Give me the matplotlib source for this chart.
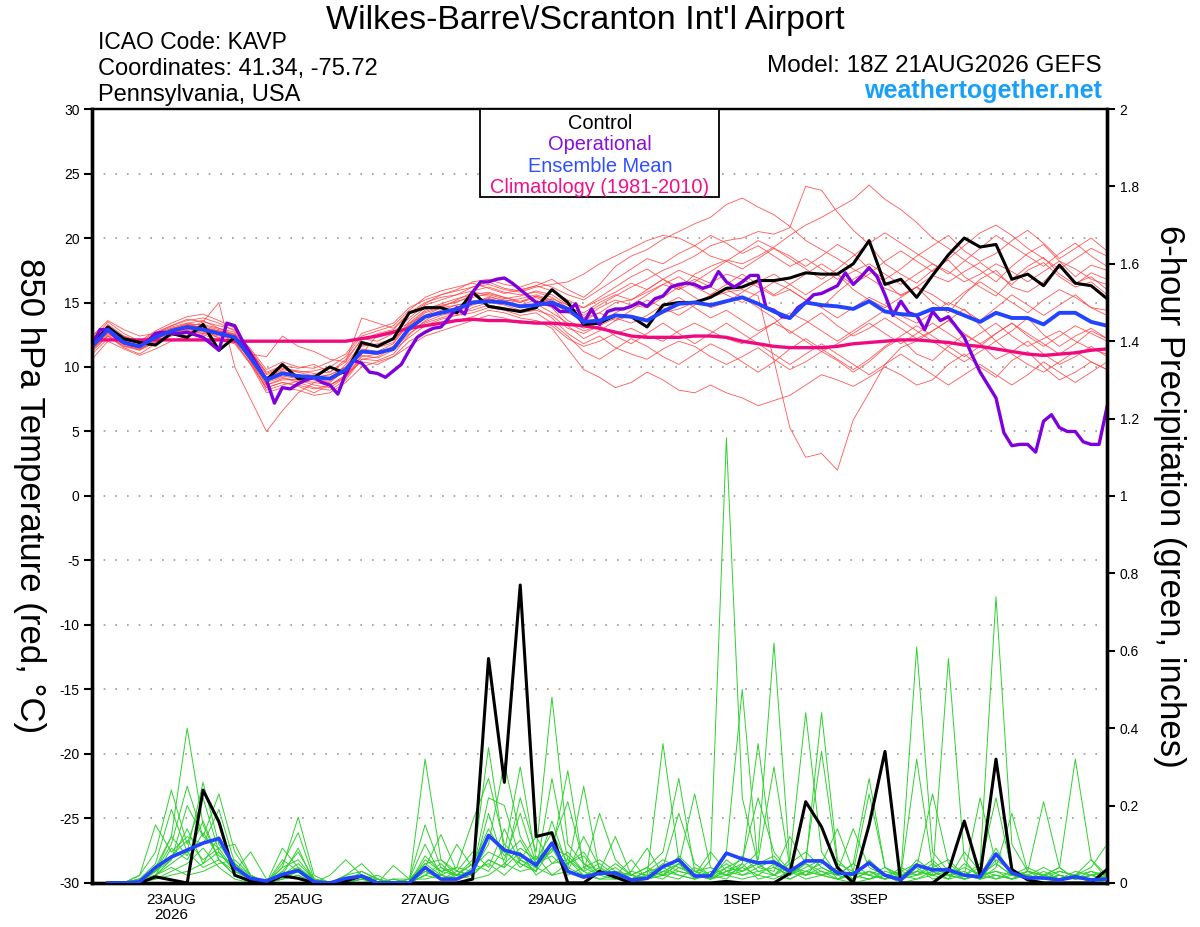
import matplotlib
matplotlib.use("Agg")
import matplotlib.pyplot as plt
import matplotlib.patches as patches
import numpy as np

plt.rcParams['font.family'] = ['Liberation Sans', 'DejaVu Sans']
plt.rcParams['axes.unicode_minus'] = False

# czasy: co 6 h (GEFS) i co 3 h (operacyjny GFS)
t6 = np.arange(np.datetime64('2026-08-21T18:00'), np.datetime64('2026-09-06T19:00'), np.timedelta64(6, 'h'))
t3 = np.arange(np.datetime64('2026-08-21T18:00'), np.datetime64('2026-09-06T19:00'), np.timedelta64(3, 'h'))
t_opad = t6[1:]

# temperatura 850 hPa (C)
kontrolny = [11.7, 13.1, 12.2, 11.9, 11.7, 12.6, 12.3, 13.3, 11.3, 12.3, 10.8, 9.0, 10.2, 9.1, 9.2, 10.0, 9.5,
             11.9, 11.6, 12.2, 14.2, 14.6, 14.6, 14.2, 15.8, 14.7, 14.5, 14.3, 14.6, 16.0, 15.0, 13.3, 13.4,
             14.0, 13.9, 13.1, 14.8, 15.0, 15.0, 15.4, 16.1, 16.2, 16.7, 16.7, 16.9, 17.3, 17.2, 17.2, 18.0,
             19.8, 16.4, 16.8, 15.4, 17.1, 18.7, 20.0, 19.3, 19.5, 16.8, 17.2, 16.3, 17.9, 16.5, 16.3, 15.3]

srednia = [11.6, 12.9, 11.9, 11.6, 12.3, 12.8, 13.1, 12.9, 12.6, 12.3, 10.7, 9.0, 9.5, 9.3, 9.2, 9.1, 9.8,
           11.2, 11.1, 11.4, 13.0, 13.9, 14.2, 14.5, 15.0, 15.1, 15.0, 14.7, 14.8, 15.0, 14.5, 13.5, 13.6,
           14.0, 13.9, 13.6, 14.3, 14.9, 15.0, 14.8, 15.1, 15.4, 14.9, 14.3, 13.8, 15.0, 14.8, 14.7, 14.5,
           15.1, 14.3, 14.1, 14.0, 14.5, 14.5, 14.0, 13.5, 14.2, 13.8, 13.8, 13.3, 14.2, 14.2, 13.5, 13.2]

klimatologia = [12.1, 12.1, 12.1, 12.1, 12.1, 12.1, 12.1, 12.1, 12.1, 12.0, 12.0, 12.0, 12.0, 12.0, 12.0, 12.0, 12.0,
                12.2, 12.4, 12.7, 13.0, 13.2, 13.4, 13.6, 13.7, 13.6, 13.6, 13.5, 13.4, 13.4, 13.3, 13.2, 13.0,
                12.7, 12.4, 12.3, 12.3, 12.3, 12.4, 12.4, 12.3, 12.0, 11.8, 11.6, 11.5, 11.5, 11.5, 11.6, 11.8,
                11.9, 12.0, 12.1, 12.1, 12.0, 11.9, 11.7, 11.6, 11.4, 11.2, 11.0, 10.9, 11.0, 11.1, 11.3, 11.4]

operacyjny = [11.7, 12.9, 12.9, 12.3, 11.9, 11.7, 11.6, 12.0, 12.6, 12.7, 12.6, 12.6, 12.7, 12.5, 12.3, 11.8,
              11.3, 13.4, 13.2, 12.0, 11.0, 10.0, 9.0, 7.2, 8.4, 8.3, 8.7, 9.0, 9.2, 8.8, 8.6, 7.9,
              9.5, 10.5, 10.3, 9.6, 9.5, 9.2, 9.7, 10.2, 11.3, 12.3, 12.7, 13.0, 13.1, 13.8, 14.6, 14.1,
              15.8, 16.6, 16.6, 16.8, 16.9, 16.5, 16.0, 15.5, 15.0, 14.9, 14.8, 14.3, 14.3, 14.9, 13.4, 14.5,
              13.3, 14.3, 14.5, 14.5, 14.7, 15.0, 14.7, 15.3, 15.5, 16.2, 16.4, 16.5, 16.4, 16.1, 16.3, 17.4,
              16.6, 16.2, 16.6, 17.1, 17.1, 14.6, 14.4, 13.9, 13.8, 14.6, 15.0, 15.6, 15.7, 16.0, 16.3, 17.3,
              16.4, 17.0, 17.7, 17.0, 15.6, 14.0, 15.1, 14.2, 14.0, 12.9, 14.3, 13.6, 13.9, 13.1, 12.3, 10.9,
              9.6, 8.6, 7.6, 4.9, 3.9, 4.0, 4.0, 3.4, 5.8, 6.3, 5.3, 5.0, 5.0, 4.2, 4.0, 4.0, 6.9]

czlonkowie_temp = [
    [12.0, 13.5, 12.6, 12.0, 12.8, 13.4, 13.9, 14.1, 13.6, 13.0, 11.2, 9.6, 10.1, 9.9, 10.2, 9.6, 10.6,
     12.1, 12.6, 12.9, 14.1, 14.9, 15.6, 15.9, 16.2, 16.6, 16.1, 15.9, 16.3, 16.8, 16.0, 15.4, 16.4,
     17.8, 18.6, 19.1, 19.9, 20.5, 21.1, 21.6, 22.6, 23.1, 22.4, 21.8, 20.9, 19.8, 19.1, 18.4, 17.6,
     16.9, 16.1, 15.6, 16.2, 17.1, 16.6, 17.4, 18.1, 17.2, 16.4, 17.5, 18.1, 17.0, 16.2, 16.6, 15.6],
    [11.2, 12.4, 11.5, 11.0, 11.8, 12.6, 13.3, 13.0, 12.2, 12.0, 10.2, 8.4, 8.8, 8.5, 8.0, 8.6, 9.2,
     10.6, 10.8, 11.5, 12.8, 13.5, 14.0, 14.3, 14.8, 15.2, 15.0, 14.6, 14.9, 15.3, 14.8, 14.0, 14.8,
     15.5, 16.2, 16.8, 17.5, 18.0, 18.6, 19.4, 19.8, 20.0, 20.5, 20.3, 20.8, 24.0, 23.7, 22.0, 20.6,
     19.5, 18.0, 17.2, 16.5, 17.5, 18.3, 17.0, 16.2, 15.5, 16.8, 17.8, 18.5, 17.2, 16.4, 17.3, 16.8],
    [11.8, 12.8, 12.3, 11.9, 12.1, 12.9, 13.4, 13.6, 13.0, 12.7, 11.0, 9.2, 9.8, 9.6, 9.3, 9.0, 10.2,
     11.8, 11.5, 11.9, 13.6, 14.6, 14.8, 15.0, 15.6, 15.8, 15.4, 15.0, 15.5, 15.0, 14.2, 13.6, 14.2,
     15.0, 15.2, 15.8, 16.4, 16.0, 17.2, 17.8, 18.3, 18.0, 18.6, 19.3, 20.2, 21.0, 21.6, 22.3, 23.0,
     24.1, 23.0, 22.2, 21.2, 20.0, 19.2, 18.3, 17.5, 16.6, 17.8, 18.8, 19.5, 18.2, 17.0, 17.9, 17.5],
    [12.3, 13.0, 12.0, 11.5, 12.5, 13.0, 13.2, 13.0, 12.8, 12.5, 10.6, 8.8, 9.2, 8.8, 8.4, 8.2, 9.0,
     10.6, 10.5, 11.0, 12.5, 13.6, 14.3, 14.6, 14.9, 15.3, 15.0, 14.8, 15.2, 14.6, 13.2, 12.2, 12.8,
     13.6, 14.0, 13.6, 14.2, 14.5, 15.0, 15.4, 15.8, 16.0, 15.5, 10.5, 5.3, 3.0, 3.3, 2.0, 5.9,
     8.0, 10.2, 11.5, 12.0, 12.8, 13.6, 14.5, 13.2, 12.0, 12.8, 13.8, 12.5, 11.6, 12.4, 13.0, 12.2],
    [11.0, 12.2, 11.8, 11.4, 11.9, 12.6, 13.0, 13.5, 15.0, 10.0, 7.5, 5.0, 6.6, 8.0, 8.8, 9.2, 9.8,
     11.0, 12.5, 12.8, 13.4, 14.0, 14.6, 15.2, 15.8, 15.6, 15.3, 15.5, 15.9, 15.6, 14.8, 14.6, 15.2,
     15.8, 16.5, 16.0, 16.8, 17.5, 17.0, 16.5, 17.2, 16.8, 16.2, 15.5, 16.0, 15.2, 14.6, 15.8, 16.8,
     17.5, 16.6, 15.5, 16.2, 15.0, 14.2, 15.6, 16.8, 17.5, 16.2, 15.8, 16.6, 17.8, 16.5, 17.0, 16.0],
    [12.5, 12.9, 12.4, 12.0, 12.4, 12.6, 12.8, 12.6, 12.6, 12.2, 10.8, 9.0, 9.5, 9.2, 9.4, 9.0, 9.6,
     11.2, 11.0, 11.6, 12.8, 13.8, 14.2, 14.0, 14.6, 15.0, 14.8, 14.4, 14.6, 13.8, 12.6, 11.8, 12.4,
     11.5, 11.0, 10.6, 11.4, 12.0, 11.6, 10.8, 10.2, 10.8, 11.5, 10.6, 9.8, 10.4, 11.2, 10.5, 9.6,
     10.4, 11.5, 12.2, 11.0, 10.5, 11.6, 12.5, 11.8, 10.6, 11.2, 12.0, 11.0, 10.2, 10.8, 11.6, 10.8],
    [11.4, 12.6, 11.8, 11.6, 12.0, 12.4, 12.9, 12.7, 12.4, 12.3, 10.4, 8.6, 9.0, 9.0, 8.8, 8.6, 9.4,
     10.4, 10.2, 10.8, 12.0, 12.6, 13.2, 13.6, 13.9, 14.4, 14.2, 13.8, 13.6, 13.0, 11.4, 9.8, 9.2,
     8.4, 8.8, 9.6, 9.0, 8.2, 8.0, 8.6, 8.0, 7.6, 7.0, 7.4, 7.8, 8.6, 9.4, 9.0, 8.5,
     9.2, 10.0, 9.4, 8.6, 9.0, 10.2, 11.0, 10.0, 9.2, 10.5, 11.2, 10.0, 9.0, 9.6, 10.4, 9.8],
    [12.4, 13.6, 12.9, 12.4, 12.6, 13.2, 13.6, 13.8, 13.4, 12.8, 11.4, 9.8, 10.4, 10.0, 9.9, 10.4, 11.0,
     12.6, 13.0, 13.4, 14.6, 15.2, 15.6, 16.0, 16.6, 16.8, 16.4, 16.2, 16.6, 16.2, 15.6, 15.2, 16.0,
     16.8, 17.6, 18.4, 18.0, 18.8, 19.4, 18.6, 18.2, 17.6, 18.4, 19.2, 18.6, 17.8, 18.6, 19.5, 18.8,
     17.6, 16.8, 17.6, 18.6, 19.4, 20.2, 19.0, 18.2, 18.8, 19.8, 20.6, 19.6, 18.4, 19.2, 20.0, 19.0],
    [11.6, 12.8, 11.7, 11.3, 12.2, 12.7, 13.0, 12.8, 12.6, 12.1, 10.5, 8.2, 8.6, 8.9, 9.2, 9.4, 10.0,
     11.6, 11.8, 12.2, 13.2, 14.2, 14.6, 14.8, 15.0, 15.4, 15.2, 15.0, 15.4, 14.8, 13.6, 13.0, 13.4,
     14.2, 14.8, 14.6, 15.4, 16.2, 16.8, 16.2, 15.6, 15.0, 15.8, 16.6, 16.0, 15.2, 14.6, 13.8, 14.6,
     15.4, 14.8, 14.0, 13.4, 14.2, 15.0, 14.4, 13.6, 14.6, 15.6, 14.8, 14.0, 14.8, 15.6, 14.6, 14.0],
    [12.0, 13.2, 12.2, 11.8, 12.6, 13.1, 13.4, 13.2, 12.9, 12.4, 10.9, 9.2, 9.6, 9.4, 9.0, 8.8, 9.8,
     11.4, 11.2, 11.8, 13.4, 14.4, 14.9, 15.3, 15.6, 15.5, 15.1, 15.3, 15.6, 15.2, 14.4, 13.8, 14.2,
     13.6, 14.4, 15.2, 14.6, 14.0, 14.8, 15.6, 16.0, 15.4, 14.6, 13.8, 12.6, 13.4, 14.2, 13.2, 12.4,
     13.0, 13.8, 13.0, 12.2, 12.8, 13.6, 12.6, 11.8, 12.6, 13.4, 12.4, 11.6, 12.4, 13.2, 12.6, 12.0],
    [11.8, 12.6, 11.9, 11.7, 12.3, 12.9, 13.2, 13.1, 12.7, 12.6, 11.2, 9.4, 9.9, 9.7, 9.5, 9.6, 10.4,
     12.2, 12.0, 12.6, 13.8, 14.8, 15.2, 15.6, 15.9, 16.2, 15.8, 15.6, 15.8, 15.4, 14.6, 14.2, 15.0,
     15.6, 15.2, 16.0, 16.8, 16.2, 15.4, 14.6, 15.0, 15.8, 16.6, 17.2, 16.4, 15.6, 16.4, 17.2, 16.0,
     15.2, 14.6, 15.4, 16.2, 15.6, 14.8, 15.8, 16.6, 15.8, 15.0, 14.2, 15.2, 16.0, 15.4, 14.6, 14.4],
    [10.6, 12.0, 11.4, 10.9, 11.4, 12.0, 12.4, 12.5, 12.1, 11.8, 10.2, 8.0, 8.4, 8.2, 7.8, 8.0, 8.8,
     10.0, 10.4, 10.8, 11.6, 12.4, 12.8, 13.2, 13.6, 14.0, 13.8, 13.4, 13.6, 13.2, 12.2, 11.6, 12.0,
     12.6, 13.0, 12.4, 12.0, 12.8, 13.4, 12.8, 12.2, 11.8, 12.6, 13.4, 12.8, 12.0, 11.2, 11.8, 12.6,
     13.4, 12.6, 11.8, 12.6, 13.4, 12.6, 11.8, 12.6, 13.4, 12.4, 11.6, 12.2, 12.8, 12.0, 11.4, 11.0],
    [12.2, 13.0, 12.1, 11.8, 12.5, 13.0, 13.3, 13.3, 13.0, 12.5, 11.0, 10.8, 12.4, 11.6, 11.2, 10.6, 10.4,
     13.8, 13.4, 13.0, 14.2, 15.0, 15.4, 15.6, 16.2, 16.4, 16.0, 15.8, 16.2, 16.4, 16.6, 17.2, 18.0,
     18.6, 19.2, 19.8, 20.2, 20.0, 19.4, 20.2, 19.6, 18.8, 19.4, 18.6, 17.8, 18.4, 17.6, 16.8, 17.4,
     18.0, 17.2, 16.4, 17.2, 18.0, 17.4, 16.6, 17.2, 18.0, 17.4, 16.6, 17.4, 18.2, 17.6, 16.8, 16.4],
    [11.4, 12.4, 11.6, 11.4, 12.0, 12.6, 12.9, 12.9, 12.5, 12.2, 10.6, 8.6, 9.1, 9.0, 8.6, 8.4, 9.2,
     10.8, 11.0, 11.4, 12.6, 13.4, 13.8, 14.2, 14.4, 14.8, 14.6, 14.2, 14.4, 14.0, 13.0, 12.6, 13.2,
     13.8, 13.4, 14.0, 14.8, 15.4, 14.6, 13.8, 14.4, 13.6, 12.8, 13.4, 14.2, 13.6, 12.8, 12.0, 12.8,
     13.6, 14.4, 13.6, 12.8, 12.0, 11.2, 10.4, 11.2, 12.0, 11.0, 10.2, 9.6, 10.4, 11.2, 10.4, 9.8],
    [11.9, 13.3, 12.4, 11.9, 12.7, 13.2, 13.7, 13.5, 13.2, 12.9, 11.3, 9.5, 10.0, 9.6, 9.7, 10.0, 10.8,
     12.4, 12.8, 13.2, 14.4, 15.4, 15.9, 16.2, 16.5, 16.1, 15.7, 16.0, 16.3, 15.9, 15.2, 14.6, 15.4,
     16.2, 17.0, 17.6, 16.8, 16.0, 16.6, 17.4, 18.2, 19.0, 19.8, 19.2, 18.4, 17.6, 16.8, 17.6, 18.6,
     19.6, 20.4, 19.6, 18.8, 18.0, 17.2, 18.2, 19.2, 20.2, 19.4, 18.6, 17.8, 18.8, 19.6, 18.6, 17.8],
    [11.3, 12.5, 11.6, 11.3, 11.9, 12.5, 12.8, 12.6, 12.3, 11.9, 10.3, 8.4, 8.8, 8.6, 8.3, 8.6, 9.3,
     10.9, 10.7, 11.3, 12.3, 13.2, 13.7, 14.0, 14.2, 14.6, 14.4, 14.0, 14.2, 13.4, 12.4, 11.2, 10.6,
     11.4, 12.2, 11.6, 10.8, 10.2, 11.0, 11.8, 11.2, 10.4, 9.6, 10.4, 11.4, 12.2, 11.4, 10.6, 9.8,
     10.6, 11.6, 12.4, 13.2, 12.4, 11.6, 10.8, 11.6, 12.6, 13.4, 12.6, 11.8, 11.0, 11.8, 12.8, 12.2],
    [12.1, 13.1, 12.3, 11.8, 12.4, 12.9, 13.2, 13.1, 12.8, 12.4, 10.9, 9.1, 9.7, 9.3, 9.2, 9.4, 10.0,
     11.7, 11.6, 12.1, 13.3, 14.3, 14.7, 15.1, 15.4, 15.7, 15.4, 15.1, 15.5, 15.1, 14.3, 13.8, 14.6,
     15.2, 14.8, 15.6, 16.4, 17.0, 16.2, 15.6, 16.4, 17.2, 16.4, 15.6, 16.4, 17.2, 18.0, 17.2, 16.4,
     17.2, 18.2, 19.0, 18.2, 17.4, 18.4, 19.4, 20.4, 21.0, 20.2, 19.2, 18.4, 17.6, 18.4, 19.2, 18.6],
    [11.5, 12.7, 12.0, 11.6, 12.1, 12.7, 13.0, 12.8, 12.5, 12.0, 10.7, 8.9, 9.3, 9.1, 9.0, 8.9, 9.7,
     11.3, 11.1, 11.6, 12.9, 13.9, 14.4, 14.8, 15.1, 15.3, 15.0, 14.6, 14.9, 14.2, 13.4, 12.8, 13.2,
     12.4, 11.8, 12.6, 13.4, 12.6, 11.8, 12.6, 13.4, 12.6, 11.8, 11.0, 10.2, 11.0, 11.8, 11.0, 10.2,
     9.4, 10.2, 11.0, 10.2, 9.4, 8.6, 9.4, 10.2, 9.4, 8.6, 9.4, 10.4, 9.6, 8.8, 9.6, 10.4],
]

# opad 6-godzinny (cale), od 22AUG 00Z
opad_kontrolny = [0, 0, 0, 0.016, 0.008, 0, 0.24, 0.158, 0.02, 0.005, 0, 0.018, 0.012, 0, 0, 0.005,
                  0.018, 0, 0, 0, 0, 0, 0, 0.01, 0.58, 0.26, 0.77, 0.12, 0.13, 0, 0, 0.03,
                  0.015, 0, 0, 0, 0, 0, 0, 0.004, 0, 0, 0, 0.025, 0.21, 0.145, 0.04, 0,
                  0.15, 0.34, 0, 0, 0, 0.03, 0.16, 0.02, 0.32, 0.035, 0.008, 0, 0, 0, 0, 0.035]

opad_srednia = [0, 0, 0.003, 0.04, 0.067, 0.085, 0.103, 0.115, 0.04, 0.012, 0.005, 0.022, 0.032, 0.003, 0, 0.012,
                0.018, 0, 0, 0, 0.04, 0.01, 0.01, 0.03, 0.123, 0.085, 0.073, 0.046, 0.103, 0.03, 0.015, 0.025,
                0.026, 0.008, 0.012, 0.042, 0.06, 0.018, 0.018, 0.077, 0.062, 0.052, 0.054, 0.03, 0.057, 0.057, 0.026, 0.023,
                0.052, 0.02, 0.008, 0.046, 0.034, 0.034, 0.02, 0.016, 0.075, 0.026, 0.013, 0.013, 0.008, 0.016, 0.008, 0.01]

czlonkowie_opad = [
    [0, 0, 0.01, 0.04, 0.12, 0.40, 0.15, 0.06, 0.02, 0, 0, 0.03, 0.08, 0.01, 0, 0,
     0.01, 0, 0, 0, 0.03, 0.02, 0.01, 0.04, 0.35, 0.08, 0.05, 0.03, 0.27, 0.06, 0.02, 0.01,
     0.02, 0, 0.01, 0.04, 0.02, 0.01, 0.06, 1.15, 0.22, 0.05, 0.02, 0.01, 0.03, 0.02, 0.01, 0,
     0.01, 0.02, 0, 0.01, 0.03, 0.01, 0.02, 0.04, 0.22, 0.03, 0.01, 0, 0.01, 0.02, 0, 0.01],
    [0, 0, 0.02, 0.08, 0.24, 0.10, 0.22, 0.08, 0.03, 0.01, 0, 0.04, 0.17, 0.02, 0, 0.01,
     0.02, 0, 0.01, 0, 0.32, 0.06, 0.02, 0.03, 0.10, 0.31, 0.12, 0.05, 0.08, 0.29, 0.04, 0.02,
     0.03, 0.01, 0.02, 0.36, 0.06, 0.02, 0.01, 0.03, 0.04, 0.08, 0.62, 0.05, 0.02, 0.03, 0.01, 0.02,
     0.03, 0.01, 0.02, 0.32, 0.04, 0.02, 0.01, 0.02, 0.03, 0.01, 0.02, 0.01, 0.03, 0.02, 0.01, 0],
    [0, 0, 0, 0.03, 0.10, 0.25, 0.12, 0.23, 0.08, 0.02, 0, 0.09, 0.04, 0, 0, 0.02,
     0.03, 0.01, 0, 0.01, 0.15, 0.04, 0.02, 0.06, 0.12, 0.08, 0.30, 0.06, 0.10, 0.04, 0.25, 0.03,
     0.02, 0.01, 0.03, 0.02, 0.05, 0.01, 0.02, 0.08, 0.50, 0.04, 0.06, 0.02, 0.05, 0.44, 0.06, 0.02,
     0.01, 0.02, 0.03, 0.05, 0.02, 0.58, 0.06, 0.01, 0.02, 0.01, 0.03, 0.02, 0.04, 0.32, 0.06, 0.02],
    [0, 0, 0.01, 0.05, 0.19, 0.08, 0.26, 0.10, 0.04, 0.01, 0, 0.05, 0.13, 0.01, 0, 0.01,
     0.02, 0.01, 0, 0, 0.06, 0.03, 0.04, 0.16, 0.27, 0.10, 0.06, 0.12, 0.05, 0.08, 0.03, 0.18,
     0.06, 0.02, 0.04, 0.08, 0.27, 0.03, 0.01, 0.04, 0.06, 0.22, 0.08, 0.03, 0.02, 0.04, 0.02, 0.05,
     0.27, 0.04, 0.02, 0.61, 0.08, 0.03, 0.02, 0.05, 0.74, 0.10, 0.03, 0.02, 0.01, 0.02, 0.03, 0.01],
    [0, 0, 0.02, 0.15, 0.08, 0.12, 0.10, 0.19, 0.05, 0.01, 0, 0.01, 0.03, 0, 0.02, 0.06,
     0.02, 0, 0.01, 0.01, 0.04, 0.125, 0.03, 0.02, 0.06, 0.04, 0.22, 0.08, 0.48, 0.10, 0.05, 0.03,
     0.12, 0.02, 0.01, 0.03, 0.05, 0.23, 0.04, 0.02, 0.03, 0.05, 0.02, 0.06, 0.44, 0.08, 0.02, 0.01,
     0.03, 0.02, 0.01, 0.04, 0.23, 0.05, 0.02, 0.01, 0.04, 0.18, 0.03, 0.01, 0.02, 0.01, 0.02, 0.01],
    [0, 0, 0, 0.02, 0.06, 0.20, 0.12, 0.09, 0.10, 0.02, 0, 0.06, 0.03, 0.01, 0, 0.02,
     0.05, 0.01, 0, 0, 0.02, 0.05, 0.01, 0.03, 0.22, 0.20, 0.06, 0.04, 0.10, 0.21, 0.05, 0.02,
     0.01, 0.03, 0.09, 0.02, 0.05, 0.02, 0.01, 0.03, 0.05, 0.36, 0.04, 0.02, 0.06, 0.34, 0.05, 0.03,
     0.23, 0.04, 0.01, 0.03, 0.02, 0.04, 0.01, 0.02, 0.05, 0.02, 0.03, 0.21, 0.04, 0.01, 0.02, 0.03],
    [0, 0, 0.01, 0.03, 0.12, 0.07, 0.16, 0.06, 0.03, 0.08, 0.01, 0.02, 0.04, 0, 0, 0,
     0.01, 0, 0.045, 0.01, 0.10, 0.02, 0.10, 0.04, 0.08, 0.06, 0.18, 0.05, 0.07, 0.03, 0.12, 0.04,
     0.02, 0.01, 0.03, 0.04, 0.18, 0.05, 0.02, 0.04, 0.03, 0.06, 0.30, 0.04, 0.03, 0.05, 0.14, 0.03,
     0.02, 0.01, 0.03, 0.02, 0.04, 0.06, 0.02, 0.22, 0.05, 0.02, 0.01, 0.02, 0.03, 0.02, 0.04, 0.10],
    [0, 0, 0.01, 0.03, 0.06, 0.14, 0.05, 0.12, 0.04, 0.01, 0, 0.02, 0.05, 0.01, 0, 0,
     0, 0.01, 0, 0, 0.02, 0.01, 0.03, 0.08, 0.04, 0.14, 0.05, 0.03, 0.16, 0.04, 0.02, 0.03,
     0.02, 0.06, 0.01, 0.02, 0.03, 0.02, 0.08, 0.03, 0.02, 0.04, 0.03, 0.12, 0.05, 0.02, 0.03, 0.14,
     0.04, 0.02, 0.01, 0.03, 0.02, 0.01, 0.08, 0.03, 0.02, 0.01, 0.03, 0.02, 0.01, 0.02, 0.06, 0.01],
    [0, 0, 0, 0.02, 0.05, 0.08, 0.04, 0.06, 0.02, 0, 0, 0.01, 0.02, 0, 0, 0,
     0.01, 0, 0, 0, 0.05, 0.02, 0.01, 0.02, 0.06, 0.04, 0.08, 0.02, 0.05, 0.06, 0.03, 0.01,
     0.01, 0.02, 0.01, 0.03, 0.02, 0.01, 0.03, 0.02, 0.04, 0.02, 0.05, 0.01, 0.03, 0.02, 0.01, 0.02,
     0.01, 0.03, 0.02, 0.04, 0.01, 0.02, 0.03, 0.01, 0.02, 0.01, 0.02, 0.01, 0.02, 0.01, 0.01, 0],
    [0, 0, 0.01, 0.01, 0.03, 0.05, 0.09, 0.04, 0.01, 0, 0, 0.03, 0.01, 0, 0, 0.01,
     0.02, 0, 0, 0, 0.02, 0.04, 0.02, 0.05, 0.03, 0.09, 0.04, 0.07, 0.02, 0.05, 0.08, 0.02,
     0.04, 0.01, 0.02, 0.01, 0.04, 0.03, 0.02, 0.05, 0.02, 0.03, 0.04, 0.02, 0.05, 0.03, 0.02, 0.01,
     0.06, 0.02, 0.01, 0.02, 0.05, 0.02, 0.01, 0.03, 0.01, 0.02, 0.01, 0.03, 0.01, 0.02, 0.01, 0.02],
    [0, 0, 0, 0.01, 0.02, 0.03, 0.05, 0.08, 0.03, 0.01, 0, 0.02, 0.04, 0.01, 0, 0,
     0.01, 0.02, 0, 0.01, 0.01, 0.02, 0.04, 0.03, 0.05, 0.02, 0.06, 0.03, 0.09, 0.02, 0.04, 0.06,
     0.03, 0.02, 0.04, 0.02, 0.01, 0.04, 0.02, 0.01, 0.05, 0.01, 0.02, 0.04, 0.02, 0.06, 0.01, 0.03,
     0.02, 0.01, 0.04, 0.02, 0.03, 0.01, 0.05, 0.02, 0.03, 0.02, 0.01, 0.02, 0.04, 0.01, 0.02, 0.01],
    [0, 0, 0.01, 0.02, 0.04, 0.02, 0.03, 0.05, 0.06, 0.02, 0, 0.01, 0.02, 0, 0, 0,
     0, 0, 0.01, 0, 0.03, 0.01, 0.02, 0.01, 0.02, 0.05, 0.03, 0.04, 0.02, 0.03, 0.02, 0.04,
     0.01, 0.03, 0.02, 0.05, 0.03, 0.02, 0.01, 0.02, 0.01, 0.02, 0.01, 0.03, 0.01, 0.02, 0.04, 0.01,
     0.03, 0.01, 0.02, 0.01, 0.02, 0.03, 0.01, 0.02, 0.01, 0.03, 0.02, 0.01, 0.02, 0.01, 0.03, 0.02],
    [0, 0, 0.01, 0.03, 0.07, 0.11, 0.06, 0.09, 0.03, 0.01, 0, 0.04, 0.06, 0.01, 0, 0.01,
     0.02, 0, 0, 0, 0.07, 0.03, 0.02, 0.05, 0.14, 0.07, 0.11, 0.04, 0.09, 0.07, 0.03, 0.05,
     0.02, 0.01, 0.03, 0.06, 0.04, 0.02, 0.01, 0.06, 0.03, 0.05, 0.07, 0.02, 0.04, 0.06, 0.03, 0.02,
     0.05, 0.02, 0.01, 0.06, 0.03, 0.04, 0.02, 0.01, 0.06, 0.03, 0.02, 0.04, 0.02, 0.01, 0.02, 0.03],
    [0, 0, 0, 0.02, 0.09, 0.06, 0.13, 0.07, 0.05, 0.02, 0, 0.02, 0.09, 0, 0, 0,
     0.03, 0.01, 0, 0.01, 0.05, 0.06, 0.03, 0.02, 0.18, 0.05, 0.09, 0.06, 0.13, 0.05, 0.07, 0.02,
     0.05, 0.02, 0.01, 0.02, 0.07, 0.03, 0.04, 0.02, 0.07, 0.03, 0.02, 0.05, 0.08, 0.04, 0.02, 0.05,
     0.02, 0.04, 0.02, 0.03, 0.06, 0.02, 0.04, 0.02, 0.09, 0.02, 0.04, 0.02, 0.01, 0.03, 0.02, 0.01],
]

# etykiety osi czasu
daty_tickow = ['2026-08-23', '2026-08-25', '2026-08-27', '2026-08-29', '2026-09-01', '2026-09-03', '2026-09-05']
etykiety_tickow = ['23AUG\n2026', '25AUG', '27AUG', '29AUG', '1SEP', '3SEP', '5SEP']

kol_oper = '#7f00dd'
kol_sred = '#2244ff'
kol_klim = '#f00a80'

fig = plt.figure(figsize=(12, 9.27), dpi=100)
ax = fig.add_axes([0.0767, 0.0475, 0.8458, 0.8349])
ax2 = ax.twinx()

# temperatura
for m in czlonkowie_temp:
    ax.plot(t6, m, color='#ff4444', lw=0.6, alpha=0.9, zorder=2)
ax.plot(t6, klimatologia, color=kol_klim, lw=2.4, zorder=3)
ax.plot(t6, kontrolny, color='black', lw=2.2, zorder=4)
ax.plot(t3, operacyjny, color=kol_oper, lw=2.4, zorder=5)
ax.plot(t6, srednia, color=kol_sred, lw=2.8, zorder=6)

# opad
for m in czlonkowie_opad:
    ax2.plot(t_opad, m, color='#2fd12f', lw=0.7, zorder=2)
ax2.plot(t_opad, opad_kontrolny, color='black', lw=2.2, zorder=4)
ax2.plot(t_opad, opad_srednia, color=kol_sred, lw=2.6, zorder=5)

ax.set_xlim(np.datetime64('2026-08-21T18:00'), np.datetime64('2026-09-06T18:00'))
ax.set_ylim(-30, 30)
ax2.set_ylim(0, 2)

ax.set_yticks(np.arange(-30, 31, 5))
ax.tick_params(axis='y', direction='out', length=6, width=1.5, labelsize=10, pad=3)
ax2.set_yticks(np.arange(0, 2.01, 0.2))
ax2.set_yticklabels(['0', '0.2', '0.4', '0.6', '0.8', '1', '1.2', '1.4', '1.6', '1.8', '2'])
ax2.tick_params(axis='y', direction='out', length=6, width=1.5, labelsize=10, pad=3)

ax.set_xticks([np.datetime64(d + 'T00:00') for d in daty_tickow])
ax.set_xticklabels(etykiety_tickow, fontsize=11, linespacing=1.1)
ax.tick_params(axis='x', length=0, pad=7)

ax.yaxis.grid(True, linestyle=(0, (1, 6)), color='#9a9a9a', lw=1.2)
ax.set_axisbelow(True)

for a in (ax, ax2):
    for s in ('left', 'right', 'bottom'):
        a.spines[s].set_linewidth(2.4)
    a.spines['top'].set_linewidth(1.6)

ax.set_ylabel('850 hPa Temperature (red, °C)', fontsize=25, rotation=-90, va='center')
ax.yaxis.set_label_coords(-0.062, 0.5)
ax2.set_ylabel('6-hour Precipitation (green, inches)', fontsize=25, rotation=-90, va='center')
ax2.yaxis.set_label_coords(1.062, 0.5)

# napisy nad wykresem
fig.text(0.488, 0.978, "Wilkes-Barre\\/Scranton Int'l Airport", fontsize=24.5, ha='center', va='center')
fig.text(0.0815, 0.954, 'ICAO Code: KAVP', fontsize=16.5, ha='left', va='center')
fig.text(0.0815, 0.926, 'Coordinates: 41.34, -75.72', fontsize=17, ha='left', va='center')
fig.text(0.0815, 0.898, 'Pennsylvania, USA', fontsize=17, ha='left', va='center')
fig.text(0.918, 0.929, 'Model: 18Z 21AUG2026 GEFS', fontsize=17.5, ha='right', va='center')
fig.text(0.918, 0.902, 'weathertogether.net', fontsize=18, fontweight='bold', color='#18a0f8',
         ha='right', va='center')

# legenda
ramka = patches.Rectangle((0.4, 0.7875), 0.1992, 0.0949, transform=fig.transFigure,
                          facecolor='white', edgecolor='black', lw=1.3, zorder=10)
ax2.add_patch(ramka)
wpisy = [('Control', 'black'), ('Operational', '#8a10dd'), ('Ensemble Mean', '#3050ff'),
         ('Climatology (1981-2010)', '#f0108a')]
for k, (tekst, kol) in enumerate(wpisy):
    ax2.text(0.5, 0.8665 - k * 0.0229, tekst, transform=fig.transFigure, fontsize=14.4, color=kol,
             ha='center', va='center', zorder=11)

plt.savefig('out.png', dpi=100)
